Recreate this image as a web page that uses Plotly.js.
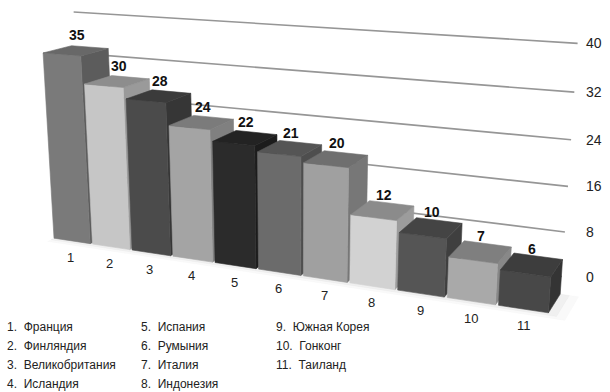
<!DOCTYPE html>
<html><head><meta charset="utf-8">
<script src="https://cdn.plot.ly/plotly-3.0.1.min.js"></script>
<style>html,body{margin:0;padding:0;background:#fff}#chart{width:610px;height:392px}</style>
</head><body><div id="chart"></div>
<script>
// ---- data ----
const categories = ['1','2','3','4','5','6','7','8','9','10','11'];
const countries = ['Франция','Финляндия','Великобритания','Исландия','Испания','Румыния','Италия','Индонезия','Южная Корея','Гонконг','Таиланд'];
const values = [35,30,28,24,22,21,20,12,10,7,6];
const gridValues = [0,8,16,24,32,40];

// ---- styles ----
const frontColors = ['#7a7a7a','#c6c6c6','#4b4b4b','#a4a4a4','#2b2b2b','#6b6b6b','#a0a0a0','#d2d2d2','#555555','#a9a9a9','#484848'];
const topColors   = ['#686868','#8d8d8d','#3b3b3b','#7b7b7b','#232323','#555555','#6f6f6f','#8b8b8b','#444444','#7f7f7f','#3d3d3d'];
const sideColors  = ['#5c5c5c','#9a9a9a','#363636','#808080','#1c1c1c','#4e4e4e','#777777','#9c9c9c','#3f3f3f','#888888','#343434'];

// ---- pseudo-3D camera (world: X along the row, Y depth, Z = value) ----
const S = 8.5, W = 8.0, D = 9, BACK = 17.5;   // bar spacing, width, depth, back wall depth
const CAM = {yaw:23.8, pitch:16.2, f:1187, dist:200, target:[5.3*S,0,14], cx:293, cy:196};
const rad = Math.PI/180, ya = CAM.yaw*rad, pa = CAM.pitch*rad;
const fwd = [-Math.sin(ya)*Math.cos(pa), Math.cos(ya)*Math.cos(pa), -Math.sin(pa)];
const rgt = [Math.cos(ya), Math.sin(ya), 0];
const upv = [-Math.sin(ya)*Math.sin(pa), Math.cos(ya)*Math.sin(pa), Math.cos(pa)];
const eye = CAM.target.map((t,k)=>t - CAM.dist*fwd[k]);
const dot = (a,b)=>a[0]*b[0]+a[1]*b[1]+a[2]*b[2];
function proj(P){
  const r = [P[0]-eye[0], P[1]-eye[1], P[2]-eye[2]];
  const zc = dot(r,fwd);
  return [CAM.cx + CAM.f*dot(r,rgt)/zc, CAM.cy - CAM.f*dot(r,upv)/zc];
}
const barX = i => i*S;

const traces = [];
function poly(pts, color){
  const p = pts.map(proj);
  traces.push({type:'scatter',mode:'lines',x:p.map(q=>q[0]).concat([p[0][0]]),y:p.map(q=>q[1]).concat([p[0][1]]),
    fill:'toself',fillcolor:color,line:{color:color,width:0.6},hoverinfo:'skip',showlegend:false});
}
// gridlines on the back wall
const gx0 = barX(-1.05), gx1 = barX(10.3);
gridValues.forEach(g=>{
  const a = proj([gx0,BACK,g]), b = proj([gx1,BACK,g]);
  traces.push({type:'scatter',mode:'lines',x:[a[0],b[0]],y:[a[1],b[1]],line:{color:'#969696',width:1.6},hoverinfo:'skip',showlegend:false});
});
// very soft floor shadow under the bars
[[3,0.025],[1.5,0.035]].forEach(([m,o])=>{
  const xa = barX(0)-W/2, xb = barX(10)+W/2+m;
  poly([[xa,-m*0.7,0],[xb,-m*0.7,0],[xb,D,0],[xa,D,0]], 'rgba(0,0,0,'+o+')');
});
// bars, far (left) to near (right)
values.forEach((v,i)=>{
  const x0 = barX(i)-W/2, x1 = barX(i)+W/2;
  if (eye[0] > x1) poly([[x1,0,0],[x1,D,0],[x1,D,v],[x1,0,v]], sideColors[i]);
  else if (eye[0] < x0) poly([[x0,0,0],[x0,D,0],[x0,D,v],[x0,0,v]], sideColors[i]);
  poly([[x0,0,0],[x1,0,0],[x1,0,v],[x0,0,v]], frontColors[i]);
  poly([[x0,0,v],[x1,0,v],[x1,D,v],[x0,D,v]], topColors[i]);
});

const ann = [];
values.forEach((v,i)=>{
  const t = proj([barX(i),D*0.55,v]);
  ann.push({x:t[0],y:t[1],xref:'x',yref:'y',text:'<b>'+v+'</b>',showarrow:false,yanchor:'bottom',yshift:5,
    font:{family:'Liberation Sans, Arial',size:14,color:'#111'}});
  const c = proj([barX(i)+0.3,-1,0]);
  ann.push({x:c[0],y:c[1],xref:'x',yref:'y',text:categories[i],showarrow:false,yanchor:'top',yshift:-5,
    font:{family:'Liberation Sans, Arial',size:13,color:'#222'}});
});
gridValues.forEach(g=>{
  const e = proj([gx1,BACK,g]);
  ann.push({x:584,y:e[1],xref:'x',yref:'y',text:String(g),showarrow:false,xanchor:'left',
    font:{family:'Liberation Sans, Arial',size:14,color:'#222'}});
});
const colX=[0.008,0.228,0.449], rowY=[327,346,365,384];
countries.forEach((c,i)=>{
  const col = i<4?0:(i<8?1:2), row = i<4?i:(i<8?i-4:i-8);
  ann.push({xref:'paper',yref:'paper',x:colX[col],y:1-rowY[row]/392,xanchor:'left',yanchor:'middle',
    text:(i+1)+'.  '+c,showarrow:false,font:{family:'Liberation Sans, Arial',size:12,color:'#222'}});
});

const layout = {
  width:610,height:392,margin:{l:0,r:0,t:0,b:0},paper_bgcolor:'#fff',plot_bgcolor:'#fff',showlegend:false,
  xaxis:{range:[0,610],visible:false,fixedrange:true},
  yaxis:{range:[392,0],visible:false,fixedrange:true},
  annotations:ann
};
Plotly.newPlot('chart',traces,layout,{displayModeBar:false,staticPlot:true});
</script></body></html>
